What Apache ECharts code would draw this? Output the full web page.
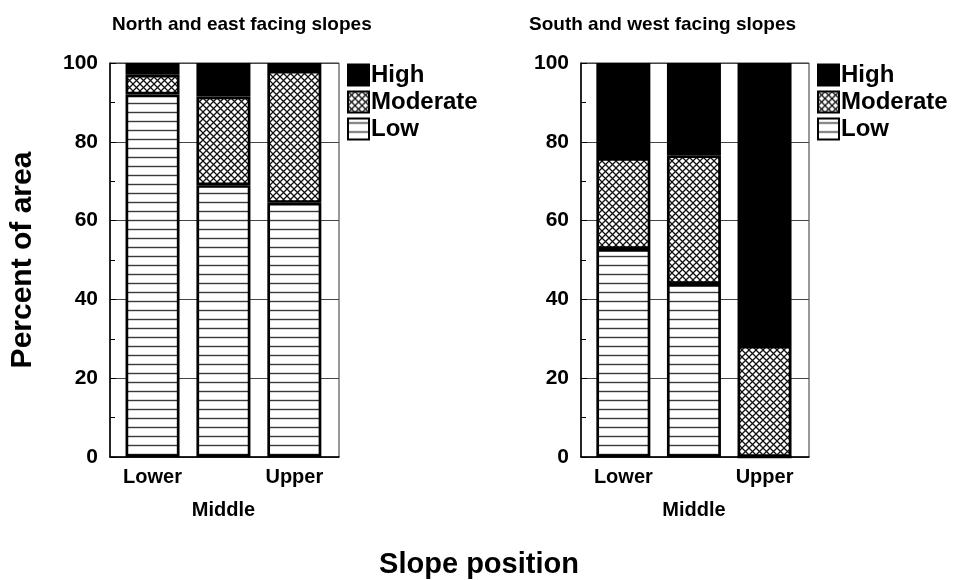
<!DOCTYPE html>
<html>
<head>
<meta charset="utf-8">
<script src="https://cdn.jsdelivr.net/npm/echarts@6/dist/echarts.min.js"></script>
<style>
html,body{margin:0;padding:0;background:#fff;}
#chart{width:958px;height:580px;}
</style>
</head>
<body>
<div id="chart"></div>
<script>
// ---- data ----
const categories = ['Lower', 'Middle', 'Upper'];
const seriesNames = ['High', 'Moderate', 'Low'];
const neLow = [92, 69, 64.5];
const neModerate = [5, 22.5, 33.5];
const neHigh = [3, 8.5, 2];
const swLow = [52.8, 43.9, 0];
const swModerate = [23.1, 32.7, 28.2];
const swHigh = [24.1, 23.4, 71.8];
const yTicks = [0, 20, 40, 60, 80, 100];
const panelTitles = ['North and east facing slopes', 'South and west facing slopes'];
const yTitle = 'Percent of area';
const xTitle = 'Slope position';

// ---- patterns ----
function linesPattern() {
  const c = document.createElement('canvas');
  c.width = 10; c.height = 9;
  const g = c.getContext('2d');
  g.fillStyle = '#fff'; g.fillRect(0, 0, 10, 9);
  g.strokeStyle = '#3a3a3a'; g.lineWidth = 1.4;
  g.beginPath(); g.moveTo(0, 4.5); g.lineTo(10, 4.5); g.stroke();
  return { image: c, repeat: 'repeat' };
}
function crossPattern() {
  const s = 7;
  const c = document.createElement('canvas');
  c.width = s; c.height = s;
  const g = c.getContext('2d');
  g.fillStyle = '#fff'; g.fillRect(0, 0, s, s);
  g.strokeStyle = '#111'; g.lineWidth = 1.3;
  g.beginPath();
  g.moveTo(-1, -1); g.lineTo(s + 1, s + 1);
  g.moveTo(s + 1, -1); g.lineTo(-1, s + 1);
  g.stroke();
  return { image: c, repeat: 'repeat' };
}
const fills = { High: '#000', Moderate: crossPattern(), Low: linesPattern() };

const FONT = 'Liberation Sans, Arial, sans-serif';
const pos = categories.map((c, i) => i + 1);
// value first, position second (encoded below)
const toData = arr => arr.map((v, i) => [v, pos[i]]);

function xAxis(idx) {
  return {
    type: 'value', gridIndex: idx, min: 0.4, max: 3.63,
    axisLine: { show: true, lineStyle: { color: '#000', width: 1.5 } },
    axisTick: { show: true, inside: true, length: 5, customValues: pos, lineStyle: { color: '#000', width: 1 } },
    axisLabel: {
      customValues: pos, margin: 4, color: '#000', fontFamily: FONT, fontWeight: 'bold', fontSize: 20, lineHeight: 33,
      formatter: v => { const i = Math.round(v) - 1; return i === 1 ? '\n' + categories[i] : categories[i]; }
    },
    splitLine: { show: false }
  };
}
function yAxis(idx, withName) {
  const a = {
    type: 'value', gridIndex: idx, min: 0, max: 100, interval: 20,
    axisLine: { show: true, lineStyle: { color: '#000', width: 1.5 } },
    axisTick: { show: true, inside: true, length: 6, lineStyle: { color: '#000' } },
    minorTick: { show: true, splitNumber: 2, length: 5, lineStyle: { color: '#000' } },
    axisLabel: { margin: 12, color: '#000', fontFamily: FONT, fontWeight: 'bold', fontSize: 21,
      formatter: v => yTicks.includes(v) ? String(v) : '' },
    splitLine: { show: true, lineStyle: { color: '#444', width: 1 } }
  };
  if (withName) {
    a.name = yTitle; a.nameLocation = 'middle'; a.nameGap = 72; a.nameRotate = 90;
    a.nameTextStyle = { color: '#000', fontFamily: FONT, fontWeight: 'bold', fontSize: 30 };
  }
  return a;
}
function barSeries(name, arr, idx) {
  return {
    name, type: 'bar', stack: 'p' + idx, xAxisIndex: idx, yAxisIndex: idx,
    barWidth: 54, data: toData(arr), encode: { x: 1, y: 0 },
    itemStyle: { color: fills[name], borderColor: '#000', borderWidth: 2.7 },
    emphasis: { disabled: true }, animation: false
  };
}
function legend(left) {
  return {
    data: seriesNames, orient: 'vertical', left, top: 58, itemGap: 3,
    itemWidth: 21, itemHeight: 21, icon: 'rect',
    itemStyle: { borderColor: '#000', borderWidth: 2 },
    textStyle: { color: '#000', fontFamily: FONT, fontWeight: 'bold', fontSize: 24, padding: [0, 0, 0, -3] }
  };
}

const option = {
  backgroundColor: '#fff',
  animation: false,
  title: [
    { text: panelTitles[0], left: 107, top: 10, textStyle: { color: '#000', fontFamily: FONT, fontWeight: 'bold', fontSize: 19 } },
    { text: panelTitles[1], left: 524, top: 10, textStyle: { color: '#000', fontFamily: FONT, fontWeight: 'bold', fontSize: 19 } },
    { text: xTitle, left: 'center', top: 545, textStyle: { color: '#000', fontFamily: FONT, fontWeight: 'bold', fontSize: 29 } }
  ],
  legend: [legend(342), legend(812)],
  grid: [
    { left: 110, top: 63, width: 229, height: 394, show: true, borderColor: '#333', borderWidth: 1 },
    { left: 581, top: 63, width: 228, height: 394, show: true, borderColor: '#333', borderWidth: 1 }
  ],
  xAxis: [xAxis(0), xAxis(1)],
  yAxis: [yAxis(0, true), yAxis(1, false)],
  series: [
    barSeries('Low', neLow, 0), barSeries('Moderate', neModerate, 0), barSeries('High', neHigh, 0),
    barSeries('Low', swLow, 1), barSeries('Moderate', swModerate, 1), barSeries('High', swHigh, 1)
  ]
};
const chart = echarts.init(document.getElementById('chart'), null, { renderer: 'canvas' });
chart.setOption(option);
</script>
</body>
</html>
